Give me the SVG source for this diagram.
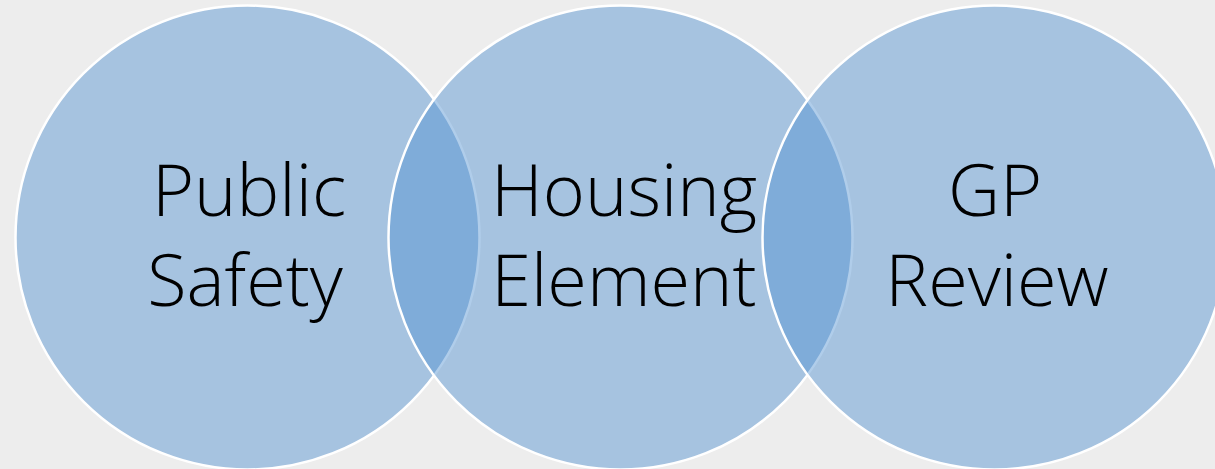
<svg xmlns="http://www.w3.org/2000/svg" width="1215" height="469" viewBox="0 0 1215 469">
<style>
.c{fill:rgb(80,144,208);fill-opacity:0.45;stroke:#ffffff;stroke-width:2.5}
.t{font-family:"Open Sans","Noto Sans","Liberation Sans",sans-serif;font-size:72px;font-weight:300;fill:#000000;text-anchor:middle}
</style>
<rect width="1215" height="469" fill="#ededed"/>
<g id="public-safety">
<circle class="c" cx="247.5" cy="237.5" r="232"/>
</g>
<g id="housing-element">
<circle class="c" cx="620.5" cy="237.5" r="232"/>
</g>
<g id="gp-review">
<circle class="c" cx="994.5" cy="237.5" r="232"/>
</g>
<g id="labels">
<text class="t" x="249" y="216">Public</text>
<text class="t" x="245" y="306">Safety</text>
<text class="t" x="624" y="216">Housing</text>
<text class="t" x="624" y="306">Element</text>
<text class="t" x="995" y="216">GP</text>
<text class="t" x="997" y="306">Review</text>
</g>
<g id="connectors"></g>
</svg>
